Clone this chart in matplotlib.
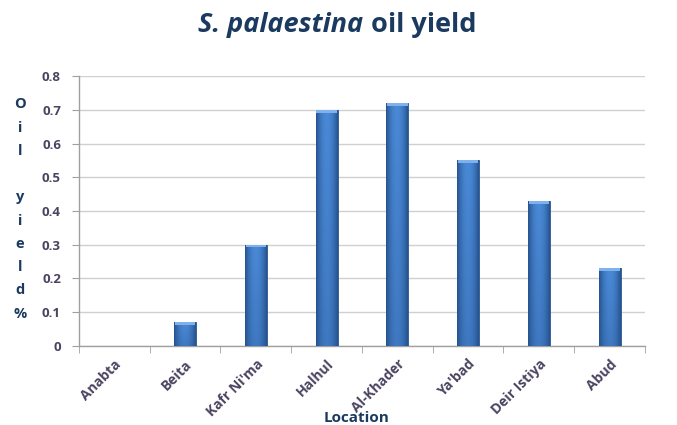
import matplotlib.pyplot as plt
import numpy as np
from matplotlib.colors import LinearSegmentedColormap

locais = ['Anabta', 'Beita', "Kafr Ni'ma", 'Halhul', 'Al-Khader', "Ya'bad", 'Deir Istiya', 'Abud']
rendimento = [0.0, 0.07, 0.30, 0.70, 0.72, 0.55, 0.43, 0.23]
yticks = [0, 0.1, 0.2, 0.3, 0.4, 0.5, 0.6, 0.7, 0.8]

cor_texto = '#4b4360'
cor_titulo = '#1b3a5f'

plt.rcParams['font.family'] = ['Open Sans', 'DejaVu Sans']

fig = plt.figure(figsize=(6.77, 4.25), dpi=100)
ax = fig.add_axes([0.1167, 0.186, 0.836, 0.635])

x = np.arange(len(locais))
largura = 0.31
barras = ax.bar(x, rendimento, width=largura, color='#3a74c0',
                edgecolor='#2a5590', linewidth=0.6, zorder=3)

# gradiente horizontal dentro de cada barra (mais claro no centro)
grad = np.linspace(-1, 1, 64)
grad = 1 - np.abs(grad) ** 2
cmap = LinearSegmentedColormap.from_list('barra', ['#25528e', '#4a89d6'])
for b in barras:
    h = b.get_height()
    if h <= 0:
        continue
    x0 = b.get_x()
    w = b.get_width()
    img = np.tile(grad, (32, 1)) * np.linspace(0.7, 1.0, 32)[:, None]
    im = ax.imshow(img, extent=[x0, x0 + w, 0, h], origin='lower',
                   cmap=cmap, aspect='auto', zorder=3.5, vmin=0, vmax=1)
    im.set_clip_path(b)
    # tampa clara no topo
    ax.fill_between([x0 + 0.01, x0 + w - 0.01], h - 0.008, h,
                    color='#7fb2ec', zorder=4, linewidth=0)

ax.set_xlim(-0.5, len(locais) - 0.5)
ax.set_ylim(0, 0.8)
ax.set_yticks(yticks)
ax.set_yticklabels(['0' if v == 0 else f'{v:.1f}' for v in yticks])

ax.yaxis.grid(True, color='#d0d0d0', linewidth=1.0, zorder=0)
ax.set_axisbelow(True)
for lado in ['top', 'right']:
    ax.spines[lado].set_visible(False)
for lado in ['left', 'bottom']:
    ax.spines[lado].set_color('#a0a0a0')
    ax.spines[lado].set_linewidth(1.0)

ax.set_xticks(x)
ax.set_xticklabels(locais, rotation=45, ha='right', rotation_mode='anchor',
                   fontsize=10, fontweight='bold', color=cor_texto)
ax.tick_params(axis='x', length=0, pad=8)
ax.set_xticks(np.arange(-0.5, len(locais)), minor=True)
ax.tick_params(axis='x', which='minor', length=5, color='#a0a0a0', direction='out')
ax.tick_params(axis='y', length=5, color='#a0a0a0', pad=8,
               labelsize=9.5, labelcolor=cor_texto)
for t in ax.get_yticklabels():
    t.set_fontweight('bold')

fig.text(357 / 677, 1 - 418 / 425, 'Location', ha='center', va='center',
         fontsize=11, fontweight='bold', color=cor_titulo)

fig.text(20 / 677, 1 - 209 / 425, 'O\ni\nl\n\ny\ni\ne\nl\nd\n%', ha='center', va='center',
         multialignment='center', fontsize=10.5, fontweight='bold',
         color=cor_titulo, linespacing=1.84)

# título com parte em itálico
t1 = fig.text(0.0, 0.0, 'S. palaestina', fontsize=19.5, fontweight='bold', style='italic',
              color=cor_titulo, va='center')
t2 = fig.text(0.0, 0.0, 'oil yield', fontsize=19.5, fontweight='bold',
              color=cor_titulo, va='center')
fig.canvas.draw()
r = fig.canvas.get_renderer()
w1 = t1.get_window_extent(r).width
w2 = t2.get_window_extent(r).width
gap = 8
x0 = 337 - (w1 + gap + w2) / 2
y0 = 425 - 25
t1.set_position((x0 / 677, y0 / 425))
t2.set_position(((x0 + w1 + gap) / 677, y0 / 425))

fig.savefig('out.png', dpi=100)
